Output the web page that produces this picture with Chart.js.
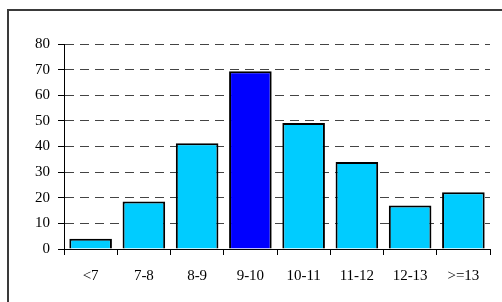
<!DOCTYPE html>
<html>
<head>
<meta charset="utf-8">
<script src="https://cdn.jsdelivr.net/npm/chart.js@4"></script>
<style>
  html, body { margin: 0; padding: 0; background: #fff; overflow: hidden; }
  #wrap { position: relative; width: 502px; height: 302px; }
  #frame {
    position: absolute; left: 7px; top: 9px; width: 600px; height: 400px;
    border-left: 2px solid #3a3a3a; border-top: 2px solid #3a3a3a;
  }
  canvas { position: absolute; left: 0; top: 0; }
</style>
</head>
<body>
<div id="wrap">
  <div id="frame"></div>
  <canvas id="grafico" width="502" height="302"></canvas>
</div>
<script>
// categorias e valores
const categorias = ['<7', '7-8', '8-9', '9-10', '10-11', '11-12', '12-13', '>=13'];
const valores = [4, 18.5, 41.3, 69.4, 49.2, 34, 17, 22.1];
const destaque = '9-10'; // barra em azul escuro
const yTicks = [0, 10, 20, 30, 40, 50, 60, 70, 80];

const cores = categorias.map(c => c === destaque ? '#0000ff' : '#00ccff');

const fonte = { family: "'Liberation Serif', 'Times New Roman', serif", size: 15 };

new Chart(document.getElementById('grafico'), {
    type: 'bar',
    data: {
        labels: categorias,
        datasets: [{
            data: valores,
            backgroundColor: cores,
            borderColor: '#000',
            borderWidth: 2,
            barPercentage: 0.8,
            categoryPercentage: 1.0
        }]
    },
    options: {
        responsive: false,
        animation: false,
        layout: { padding: { left: 0, right: 12, top: 44, bottom: 0 } },
        plugins: { legend: { display: false }, tooltip: { enabled: false } },
        scales: {
            x: {
                offset: true,
                grid: { offset: true, drawOnChartArea: false, tickLength: 6, color: '#000' },
                border: { color: '#000', width: 1 },
                ticks: { color: '#000', font: fonte, padding: 12, maxRotation: 0 },
                afterFit: s => { s.height = 53; }
            },
            y: {
                min: 0, max: 80,
                afterBuildTicks: s => { s.ticks = yTicks.map(v => ({ value: v })); },
                grid: { color: '#444', tickColor: '#000', tickLength: 6, lineWidth: 1 },
                border: { color: '#000', width: 1, dash: [9, 6] },
                ticks: { color: '#000', font: fonte, padding: 8 },
                afterFit: s => { s.width = 64; }
            }
        }
    }
});
</script>
</body>
</html>
